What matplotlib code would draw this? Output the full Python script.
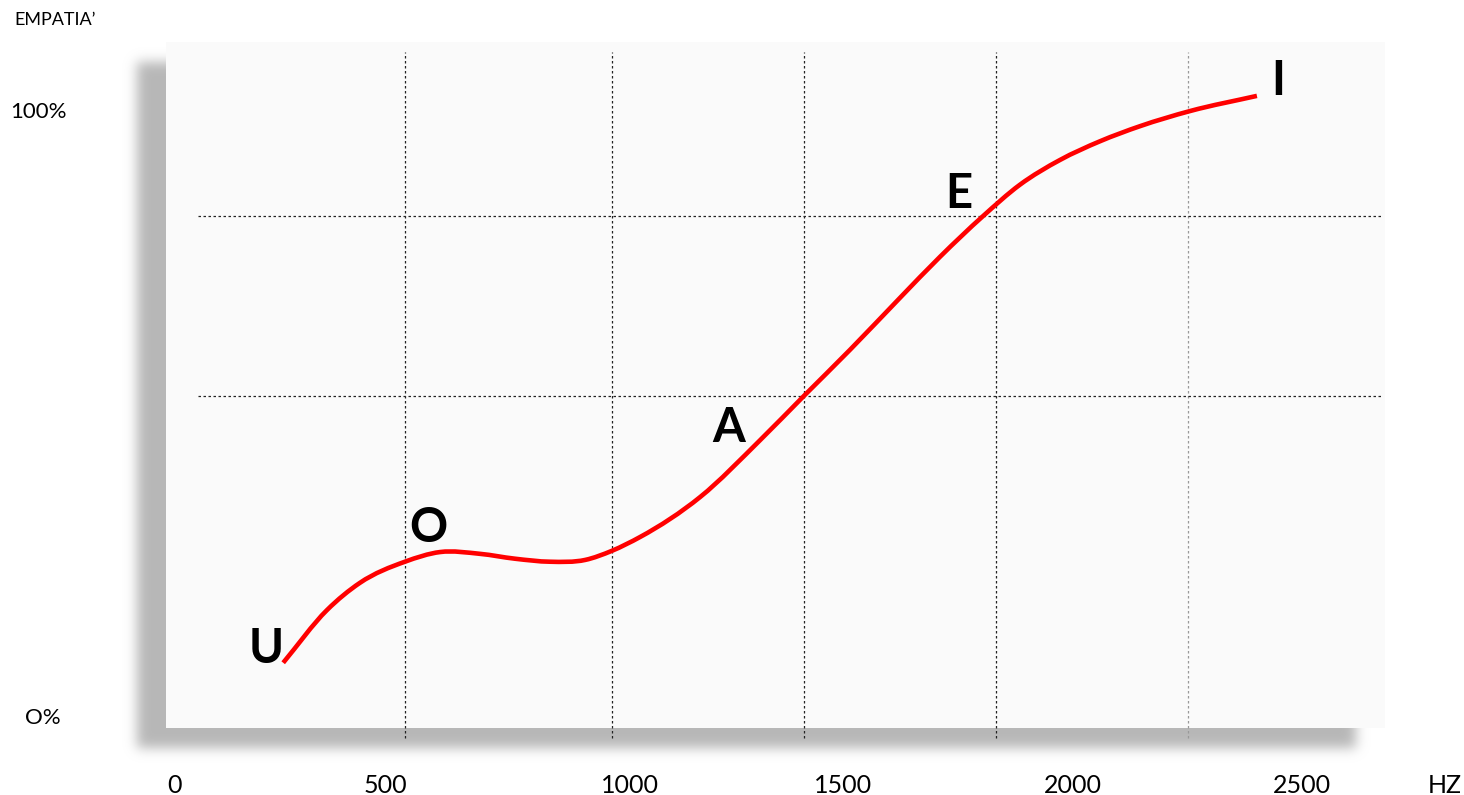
import matplotlib
matplotlib.use("Agg")
import matplotlib.pyplot as plt
from matplotlib.patches import Rectangle, PathPatch
from matplotlib.path import Path
import numpy as np

# curve: frequency (Hz) vs empathy (%)
hz = [240, 337, 410, 510, 588, 677, 754, 832, 910, 969, 1032, 1165, 1298, 1395,
      1497, 1608, 1697, 1792, 1874, 1963, 2052, 2141, 2252, 2400]
empathy = [8.8, 17.5, 22.0, 25.5, 27.1, 26.8, 26.0, 25.5, 25.8, 27.3, 29.6, 36.2,
           45.6, 52.9, 60.5, 69.1, 75.9, 82.6, 87.8, 91.9, 95.0, 97.5, 100.0, 102.5]

# vowel labels (x in Hz, baseline in %)
vowels = ["U", "O", "A", "E", "I"]
vowel_hz = [202, 563, 1229, 1739, 2447]
vowel_pct = [8.8, 28.8, 45.3, 84.0, 102.6]

# grid positions
grid_hz = [510, 969, 1395, 1821, 2247]
grid_pct = [52.9, 82.6]

xtick_labels = ["0", "500", "1000", "1500", "2000", "2500", "HZ"]
xtick_hz = [0, 466, 1010, 1481, 1992, 2500, 2817]

W, H = 1464, 795


def px2hz(px):
    return (px - 175) / 0.4508


def py2pct(py):
    return (716 - py) / 6.05


def blur(a, sigma):
    r = int(3 * sigma)
    k = np.exp(-0.5 * (np.arange(-r, r + 1) / sigma) ** 2)
    k /= k.sum()
    a = np.apply_along_axis(lambda v: np.convolve(v, k, mode="same"), 1, a)
    a = np.apply_along_axis(lambda v: np.convolve(v, k, mode="same"), 0, a)
    return a


def smooth_path(x, y):
    # cubic hermite through the points (slopes from neighbours), as bezier segments
    x = np.asarray(x, float)
    y = np.asarray(y, float)
    m = np.gradient(y, x)
    verts = [(x[0], y[0])]
    codes = [Path.MOVETO]
    for i in range(len(x) - 1):
        d = (x[i + 1] - x[i]) / 3
        verts += [(x[i] + d, y[i] + d * m[i]),
                  (x[i + 1] - d, y[i + 1] - d * m[i + 1]),
                  (x[i + 1], y[i + 1])]
        codes += [Path.CURVE4] * 3
    return Path(verts, codes)


fig = plt.figure(figsize=(W / 100, H / 100), dpi=100)
ax = fig.add_axes([0, 0, 1, 1])
ax.set_axis_off()
xlim = (px2hz(0), px2hz(W))
ylim = (py2pct(H), py2pct(0))

# soft drop shadow behind the panel
mask = np.zeros((H, W))
mask[62:748, 137:1356] = 1.0
mask = blur(mask, 6)
img = np.zeros((H, W, 4))
img[..., :3] = 0.72
img[..., 3] = mask
ax.imshow(img, extent=(xlim[0], xlim[1], ylim[0], ylim[1]), origin="upper",
          aspect="auto", zorder=0, interpolation="bilinear")

# panel
x0, x1 = px2hz(166), px2hz(1385)
y0, y1 = py2pct(728), py2pct(42)
ax.add_patch(Rectangle((x0, y0), x1 - x0, y1 - y0, facecolor="#fafafa",
                       edgecolor="none", zorder=1))

# dotted grid
for i, g in enumerate(grid_hz):
    col = "#999999" if i == len(grid_hz) - 1 else "#222222"
    ax.vlines(g, py2pct(738), py2pct(52), colors=col, linewidth=0.9,
              linestyles=(0, (2, 2)), zorder=2)
ax.hlines(grid_pct, px2hz(198), px2hz(1382), colors="#222222", linewidth=0.9,
          linestyles=(0, (2, 2)), zorder=2)

ax.add_patch(PathPatch(smooth_path(hz, empathy), facecolor="none",
                       edgecolor="#ff0000", linewidth=3.3, capstyle="butt",
                       joinstyle="round", zorder=3))

for v, x, y in zip(vowels, vowel_hz, vowel_pct):
    ax.text(x, y, v, fontsize=34, fontweight="bold", family="Lato",
            ha="center", va="baseline", zorder=4)

ax.set_xlim(*xlim)
ax.set_ylim(*ylim)

for lab, x in zip(xtick_labels, xtick_hz):
    ax.text(x, py2pct(793), lab, fontsize=18, family="Lato", ha="center",
            va="baseline")

fig.text(14 / W, 1 - 25 / H, "EMPATIA\u2019", fontsize=13, family="Lato",
         ha="left", va="baseline")
fig.text(10 / W, 1 - 118 / H, "100%", fontsize=16, family="Lato",
         ha="left", va="baseline")
fig.text(25 / W, 1 - 724 / H, "O%", fontsize=16, family="Lato",
         ha="left", va="baseline")

fig.savefig("out.png", dpi=100)
